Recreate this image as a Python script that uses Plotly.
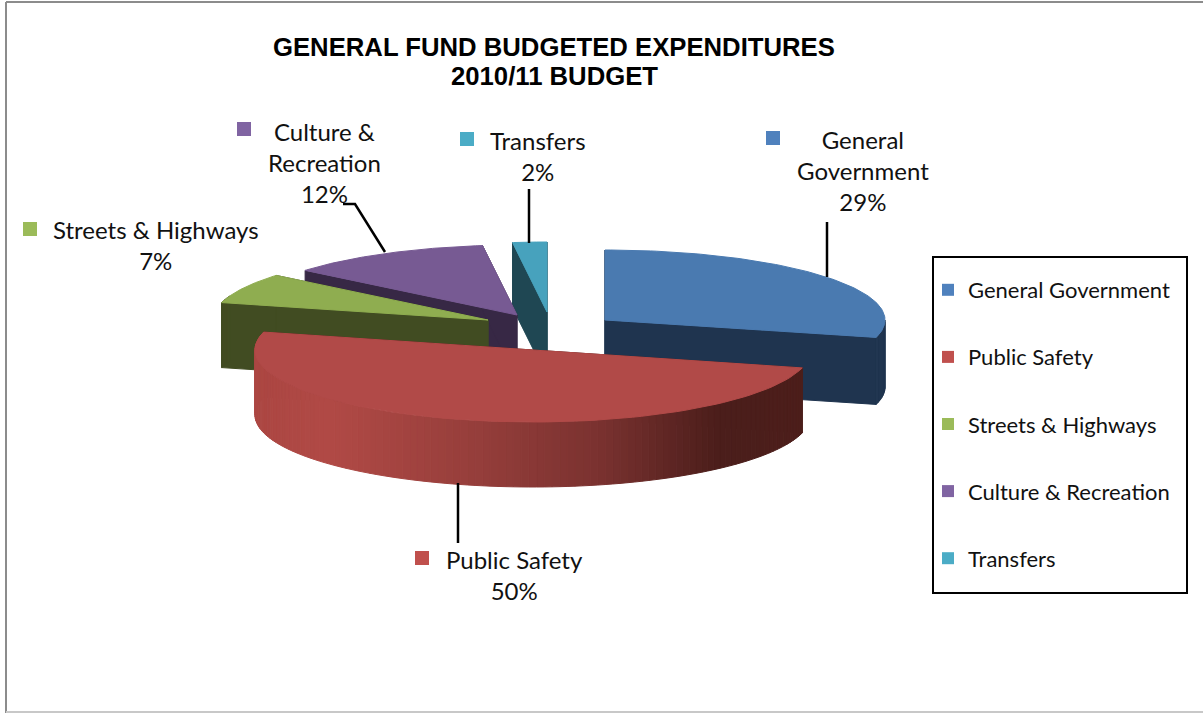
import numpy as np
import plotly.graph_objects as go

# ---- data ----
categories = ["General Government", "Public Safety", "Streets & Highways", "Culture & Recreation", "Transfers"]
label_lines = [["General", "Government"], ["Public Safety"], ["Streets & Highways"], ["Culture &", "Recreation"], ["Transfers"]]
percent_values = [29, 50, 7, 12, 2]
title_lines = ["GENERAL FUND BUDGETED EXPENDITURES", "2010/11 BUDGET"]

# ---- style and layout (pixel space of the axes) ----
W, H = 1203, 713
top_colors = ["#4A7AB0", "#B14A48", "#8FAD50", "#775A93", "#47A2BD"]
side_colors = ["#1F344F", "#4B1E1B", "#414C22", "#372845", "#1F4753"]
swatch_colors = ["#4F81BD", "#C0504D", "#9BBB59", "#8064A2", "#4BACC6"]
centers = [(605, 320), (533, 350), (488, 320), (517, 315), (547, 312)]
RX = [280, 278, 275, 275, 275]
RY = [70, 72, 70, 70, 70]
DEPTH = [67, 65, 65, 65, 65]
draw_order = [4, 3, 2, 0, 1]
label_pos = [(863, 141), (514, 561), (156, 231), (324, 133), (538, 142)]
swatch_pos = [(773, 138), (422, 558), (30, 229), (244, 129), (467, 139)]
title_y = [47, 76]
leaders = [([827, 827], [222, 277]), ([458, 458], [483, 543]), None,
           ([343, 355, 385], [204, 204, 252]), ([529, 529], [189, 243])]
LABEL_FONT = dict(family="Lato", size=24, color="#111111")
LEGEND_FONT = dict(family="Lato", size=22, color="#111111")


def rim(i, theta):
    cx, cy = centers[i]
    t = np.radians(theta)
    return cx + RX[i] * np.sin(t), cy - RY[i] * np.cos(t)


def poly(fig, xs, ys, color):
    fig.add_trace(go.Scatter(x=list(xs), y=list(ys), mode="lines", fill="toself", fillcolor=color,
                             line=dict(color=color, width=1), hoverinfo="skip", showlegend=False))


def red_shade(x):
    stops_x = [255, 330, 480, 600, 720, 806]
    stops = np.array([[172, 71, 67], [177, 74, 70], [149, 62, 59], [122, 50, 48], [75, 30, 27], [77, 31, 28]])
    return "rgb(%d,%d,%d)" % tuple(np.interp(x, stops_x, stops[:, k]) for k in range(3))


fig = go.Figure()
angles = np.cumsum([0] + percent_values) * 3.6

for i in draw_order:
    a0, a1 = angles[i], angles[i + 1]
    cx, cy = centers[i]
    d = DEPTH[i]
    for a in (a0, a1):
        rx_, ry_ = rim(i, a)
        poly(fig, [cx, rx_, rx_, cx, cx], [cy, ry_, ry_ + d, cy + d, cy], side_colors[i])
    lo, hi = max(a0, 90), min(a1, 290)
    if hi > lo:
        edges = np.linspace(lo, hi, int((hi - lo) / 1.6) + 2)
        for e0, e1 in zip(edges[:-1], edges[1:]):
            x0, y0 = rim(i, e0)
            x1, y1 = rim(i, e1)
            c = red_shade((x0 + x1) / 2) if i == 1 else side_colors[i]
            poly(fig, [x0, x1, x1, x0, x0], [y0, y1, y1 + d, y0 + d, y0], c)
    th = np.linspace(a0, a1, 90)
    px, py = rim(i, th)
    poly(fig, [cx, *px, cx], [cy, *py, cy], top_colors[i])

# leader lines
for seg in leaders:
    if seg:
        fig.add_trace(go.Scatter(x=seg[0], y=seg[1], mode="lines", line=dict(color="black", width=2.5),
                                 hoverinfo="skip", showlegend=False))

# data-label keys
fig.add_trace(go.Scatter(x=[p[0] for p in swatch_pos], y=[p[1] for p in swatch_pos], mode="markers",
                         marker=dict(symbol="square", size=14, color=swatch_colors, line=dict(width=0)),
                         hoverinfo="skip", showlegend=False))

# legend entries
for i, name in enumerate(categories):
    fig.add_trace(go.Scatter(x=[None], y=[None], mode="markers", name=name, legendgroup=name,
                             marker=dict(symbol="square", size=12, color=swatch_colors[i], line=dict(width=0))))

annotations = []
for i, lines in enumerate(label_lines):
    text = "<br>".join(lines + [f"{percent_values[i]}%"])
    annotations.append(dict(x=label_pos[i][0], y=label_pos[i][1], text=text, showarrow=False, xref="x", yref="y",
                            xanchor="center", yanchor="top", yshift=18, font=LABEL_FONT, align="center"))
for t, ty in zip(title_lines, title_y):
    annotations.append(dict(x=554, y=ty, text=f"<b>{t}</b>", showarrow=False,
                            xref="x", yref="y", xanchor="center", yanchor="middle",
                            font=dict(family="Liberation Sans", size=25.7, color="black"), align="center"))

shapes = [dict(type="line", xref="x", yref="y", x0=6, x1=W, y0=2, y1=2, line=dict(color="#8C8C8C", width=2)),
          dict(type="line", xref="x", yref="y", x0=6, x1=6, y0=2, y1=H, line=dict(color="#8C8C8C", width=2)),
          dict(type="line", xref="x", yref="y", x0=6, x1=W, y0=712, y1=712, line=dict(color="#C8C8C8", width=2)),
          dict(type="rect", xref="x", yref="y", x0=933, x1=1187, y0=257, y1=593, line=dict(color="black", width=2),
               fillcolor="white", layer="below")]

fig.update_layout(
    width=W, height=H, margin=dict(l=0, r=0, t=0, b=0),
    paper_bgcolor="white", plot_bgcolor="white",
    xaxis=dict(range=[0, W], visible=False, fixedrange=True),
    yaxis=dict(range=[H, 0], visible=False, fixedrange=True),
    annotations=annotations, shapes=shapes,
    legend=dict(x=928 / W, y=1 - 269 / H, xanchor="left", yanchor="top", bgcolor="rgba(0,0,0,0)",
                borderwidth=0, font=LEGEND_FONT, tracegroupgap=35.5,
                itemclick=False, itemdoubleclick=False),
    showlegend=True,
)
fig.write_html("out.html", config=dict(displayModeBar=False),
               post_script="document.body.style.margin='0';document.documentElement.style.overflow='hidden';")
